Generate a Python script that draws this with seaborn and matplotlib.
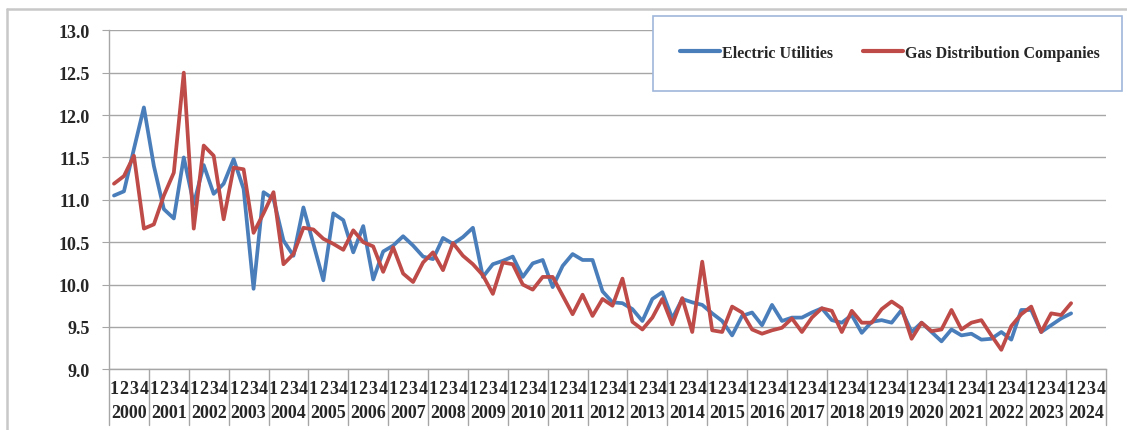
import numpy as np
import pandas as pd
import matplotlib
matplotlib.use("Agg")
import matplotlib.pyplot as plt
import matplotlib.transforms as mtransforms
from matplotlib.lines import Line2D
from matplotlib.patches import Rectangle
import seaborn as sns

# 四半期ごとの値 (2000Q1 - 2024Q1)
electric = [11.05, 11.10, 11.60, 12.09, 11.40, 10.89, 10.78, 11.50, 10.95, 11.41,
            11.07, 11.19, 11.48, 11.13, 9.95, 11.09, 11.01, 10.52, 10.34, 10.91,
            10.48, 10.05, 10.84, 10.76, 10.38, 10.69, 10.06, 10.39, 10.46, 10.57,
            10.46, 10.33, 10.30, 10.55, 10.48, 10.56, 10.67, 10.09, 10.24, 10.28,
            10.33, 10.09, 10.25, 10.29, 9.97, 10.22, 10.36, 10.29, 10.29, 9.92,
            9.79, 9.78, 9.71, 9.57, 9.83, 9.91, 9.60, 9.83, 9.79, 9.76,
            9.66, 9.57, 9.40, 9.63, 9.67, 9.52, 9.76, 9.57, 9.61, 9.61,
            9.67, 9.72, 9.58, 9.55, 9.64, 9.43, 9.56, 9.58, 9.55, 9.70,
            9.44, 9.55, 9.44, 9.33, 9.47, 9.40, 9.42, 9.35, 9.36, 9.44,
            9.35, 9.70, 9.70, 9.44, 9.52, 9.60, 9.66]
gas = [11.19, 11.28, 11.52, 10.66, 10.71, 11.05, 11.32, 12.50, 10.66, 11.64,
       11.52, 10.77, 11.38, 11.36, 10.61, 10.84, 11.09, 10.24, 10.36, 10.67,
       10.65, 10.54, 10.48, 10.41, 10.64, 10.50, 10.45, 10.15, 10.44, 10.13,
       10.03, 10.26, 10.38, 10.17, 10.49, 10.34, 10.24, 10.11, 9.89, 10.26,
       10.24, 10.00, 9.94, 10.09, 10.09, 9.87, 9.65, 9.88, 9.63, 9.83,
       9.75, 10.07, 9.56, 9.47, 9.61, 9.83, 9.53, 9.84, 9.44, 10.27,
       9.46, 9.44, 9.74, 9.67, 9.47, 9.42, 9.46, 9.49, 9.60, 9.44,
       9.61, 9.72, 9.69, 9.44, 9.69, 9.55, 9.55, 9.71, 9.80, 9.72,
       9.36, 9.55, 9.45, 9.47, 9.70, 9.47, 9.55, 9.58, 9.40, 9.23,
       9.51, 9.65, 9.74, 9.44, 9.66, 9.64, 9.78]
years = list(range(2000, 2025))
quarters = ["1", "2", "3", "4"]

series_names = ["Electric Utilities", "Gas Distribution Companies"]
colors = {"Electric Utilities": "#4a7ebb", "Gas Distribution Companies": "#be4b48"}

df = pd.DataFrame({"idx": range(len(electric)),
                   series_names[0]: electric,
                   series_names[1]: gas})
long = df.melt(id_vars="idx", var_name="series", value_name="value")

sns.set_style("white")
plt.rcParams["font.family"] = ["Liberation Serif", "DejaVu Serif"]
plt.rcParams["font.weight"] = "bold"

fig = plt.figure(figsize=(11.27, 4.31), dpi=100)
ax = fig.add_axes([109 / 1127, 1 - 370.3 / 431, (1106 - 109) / 1127, (370.3 - 31.3) / 431])

sns.lineplot(data=long, x="idx", y="value", hue="series", hue_order=series_names,
             palette=colors, linewidth=2.7, ax=ax)

n_slots = len(years) * 4
ax.set_xlim(-0.5, n_slots - 0.5)
ax.set_ylim(9, 13)
ax.set_yticks(np.arange(9, 13.01, 0.5))
ax.set_yticklabels([f"{v:.1f}" for v in np.arange(9, 13.01, 0.5)], fontsize=13, fontweight="bold")
ax.set_xticks(range(n_slots))
ax.set_xticklabels(quarters * len(years), fontsize=13, fontweight="bold")
ax.set_xticks(np.arange(-0.5, n_slots, 1), minor=True)
ax.tick_params(axis="x", which="major", length=0, pad=8)
ax.tick_params(axis="x", which="minor", direction="in", length=4, color="#a6a6a6")
ax.tick_params(axis="y", length=5, color="#a6a6a6", pad=9, left=True)
ax.set_xlabel("")
ax.set_ylabel("")
ax.grid(axis="y", color="#a6a6a6", linewidth=1.0)
ax.set_axisbelow(True)
for s in ["top", "right"]:
    ax.spines[s].set_visible(False)
for s in ["left", "bottom"]:
    ax.spines[s].set_color("#a6a6a6")
    ax.spines[s].set_linewidth(1.0)

# 年の区切り線とラベル
trans = mtransforms.blended_transform_factory(ax.transData, ax.transAxes)
for k, yr in enumerate(years):
    ax.text(4 * k + 1.5, -0.127, str(yr), transform=trans, ha="center", va="center",
            fontsize=13, fontweight="bold")
for k in range(len(years) + 1):
    x = -0.5 + 4 * k
    ax.plot([x, x], [0, -0.165], transform=trans, color="#a6a6a6", lw=1.0, clip_on=False)

# 外枠
fig.add_artist(Line2D([7 / 1127, 7 / 1127], [0, 1 - 10 / 431], transform=fig.transFigure,
                      color="#c8c8c8", lw=1.8))
fig.add_artist(Line2D([7 / 1127, 1], [1 - 10 / 431, 1 - 10 / 431], transform=fig.transFigure,
                      color="#c8c8c8", lw=1.8))

# 凡例 (枠は図の上に白塗りで置く)
fig.add_artist(Rectangle((653 / 1127, 1 - 92 / 431), (1122 - 653) / 1127, 75 / 431,
                         transform=fig.transFigure, facecolor="white",
                         edgecolor="#9fb8dc", lw=1.2, zorder=3))
handles, labels = ax.get_legend_handles_labels()
ax.get_legend().remove()
leg = fig.legend(handles, labels, loc="center", bbox_to_anchor=(890 / 1127, 1 - 54 / 431),
                 ncol=2, frameon=False, handlelength=2.5, handletextpad=0.1,
                 columnspacing=1.9, prop={"size": 11.5, "weight": "bold"})
leg.set_zorder(5)
for line in leg.get_lines():
    line.set_linewidth(3.0)

fig.savefig("out.png", dpi=100)
